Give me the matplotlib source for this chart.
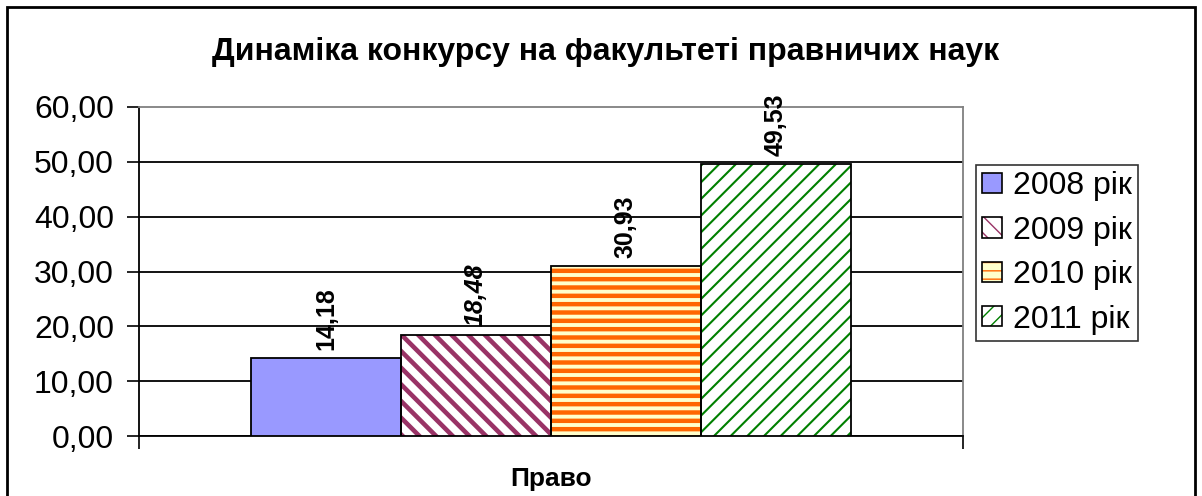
import matplotlib
matplotlib.use("Agg")
import matplotlib.pyplot as plt
from matplotlib.patches import Patch, Rectangle

plt.rcParams['font.family'] = ['Liberation Sans', 'DejaVu Sans']

title = 'Динаміка конкурсу на факультеті правничих наук'
category = 'Право'
years = ['2008 рік', '2009 рік', '2010 рік', '2011 рік']
values = [14.18, 18.48, 30.93, 49.53]
labels = ['14,18', '18,48', '30,93', '49,53']
yticks = [0, 10, 20, 30, 40, 50, 60]

# fill, hatch colour, hatch pattern, hatch width
styles = [
    ('#9999FF', None, None, 0),
    ('white', '#993366', '\\\\', 3.3),
    ('#FFFFCC', '#FF6600', '--', 3.2),
    ('white', '#008000', '//', 1.5),
]

fig = plt.figure(figsize=(12.02, 4.96), dpi=100)
ax = fig.add_axes([139/1202, 1-436/496, (963-139)/1202, (436-107)/496])

xs = [-1.5, -0.5, 0.5, 1.5]
handles = []
for i, (x, v) in enumerate(zip(xs, values)):
    fc, hc, hatch, hw = styles[i]
    with plt.rc_context({'hatch.linewidth': max(hw, 0.1)}):
        if hatch:
            ax.bar(x, v, width=1.0, color=fc, edgecolor=hc, hatch=hatch, linewidth=0, zorder=3)
            fill = Patch(facecolor=fc, edgecolor=hc, hatch=hatch, linewidth=0)
        else:
            ax.bar(x, v, width=1.0, color=fc, linewidth=0, zorder=3)
            fill = Patch(facecolor=fc, linewidth=0)
    outline = Patch(fill=False, edgecolor='black', linewidth=1.2)
    handles.append((fill, outline))
    ax.bar(x, v, width=1.0, fill=False, edgecolor='black', linewidth=1.3, zorder=4)
    ax.annotate(labels[i], (x, v), xytext=(0, 6), textcoords='offset points',
                rotation=90, ha='center', va='bottom', fontsize=18, fontweight='bold',
                style='italic' if i == 1 else 'normal')

ax.set_xlim(-2.75, 2.75)
ax.set_ylim(0, 60)
ax.set_yticks(yticks)
ax.yaxis.set_major_formatter(matplotlib.ticker.FuncFormatter(lambda v, p: ('%.2f' % v).replace('.', ',')))
ax.tick_params(axis='y', labelsize=23, length=9, width=1.2, pad=9)
ax.set_xticks([0])
ax.set_xticklabels([category], fontsize=19, fontweight='bold')
ax.tick_params(axis='x', length=0, pad=22)
ax.set_xticks([-2.75, 2.75], minor=True)
ax.tick_params(axis='x', which='minor', length=9, width=1.2, direction='out')

ax.grid(axis='y', color='black', linewidth=1.3, zorder=0)
ax.set_axisbelow(True)
ax.yaxis.get_gridlines()[-1].set_visible(False)
for s in ['left', 'bottom']:
    ax.spines[s].set_color('black')
    ax.spines[s].set_linewidth(1.3)
for s in ['top', 'right']:
    ax.spines[s].set_color('#808080')
    ax.spines[s].set_linewidth(1.3)

fig.text(606/1202, 1-52/496, title, ha='center', va='center', fontsize=23, fontweight='bold')

leg = fig.legend(handles, years, loc='upper left', bbox_to_anchor=(976/1202, 1-165/496),
                 fontsize=23, frameon=True, fancybox=False, handlelength=0.6, handleheight=0.6,
                 handletextpad=0.35, labelspacing=0.45, borderpad=0.2, borderaxespad=0)
leg.get_frame().set_edgecolor('black')
leg.get_frame().set_linewidth(1.2)

fig.patches.append(Rectangle((7/1202, -0.1), (1195-7)/1202, 1.1-7/496, transform=fig.transFigure,
                             fill=False, edgecolor='black', linewidth=2, clip_on=False))

fig.savefig('out.png', dpi=100)
